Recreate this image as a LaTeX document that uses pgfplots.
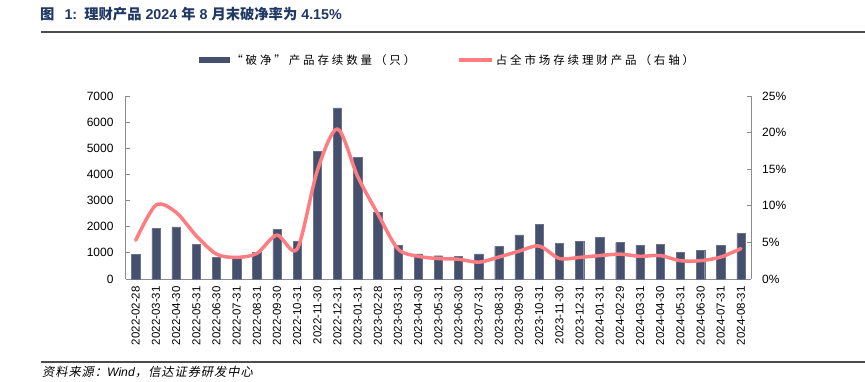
\documentclass[border=0pt]{standalone}
\usepackage{fontspec}
\setmainfont{Liberation Sans}
\newfontfamily\cjk{Noto Sans CJK SC}
\newfontfamily\cjkl[LetterSpace=25]{Noto Sans CJK SC}
\newfontfamily\cjks[FakeSlant=0.2,LetterSpace=8]{Noto Sans CJK SC}
\usepackage{pgfplots}
\pgfplotsset{compat=1.18}
\definecolor{barcol}{HTML}{454F6E}
\definecolor{linecol}{HTML}{FF7C80}
\definecolor{titlecol}{HTML}{203864}
\definecolor{axcol}{HTML}{8C8C8C}
\begin{document}
\begin{tikzpicture}
\path[use as bounding box] (0pt,0pt) rectangle (865pt,381pt);
\node[anchor=west, inner sep=0pt, text=titlecol, font=\fontsize{14.3}{15}\selectfont\bfseries] at (40pt,367pt) {{\cjk\bfseries 图}\hspace{0.7em}1:\hspace{0.5em}{\cjk\bfseries 理财产品} 2024 {\cjk\bfseries 年} 8 {\cjk\bfseries 月末破净率为} 4.15\%};
\draw[line width=1.5pt, color=black!70] (41pt,349pt) -- (865pt,349pt);
\draw[line width=1.2pt, color=black!70] (41pt,19pt) -- (865pt,19pt);
\node[anchor=west, inner sep=0pt, font=\fontsize{12.2}{13}\selectfont] at (42pt,9pt) {{\cjks 资料来源：}\textit{Wind}{\cjks ，信达证券研发中心}};
\begin{axis}[
  at={(125.7pt,102pt)}, anchor=south west, scale only axis,
  width=625.3pt, height=183pt,
  xmin=-0.5, xmax=30.5, ymin=0, ymax=7000,
  axis y line*=left, axis x line*=bottom,
  axis line style={axcol, line width=0.8pt},
  ybar, bar width=8.3pt,
  xtick={0,...,30},
  xticklabels={2022-02-28,2022-03-31,2022-04-30,2022-05-31,2022-06-30,2022-07-31,2022-08-31,2022-09-30,2022-10-31,2022-11-30,2022-12-31,2023-01-31,2023-02-28,2023-03-31,2023-04-30,2023-05-31,2023-06-30,2023-07-31,2023-08-31,2023-09-30,2023-10-31,2023-11-30,2023-12-31,2024-01-31,2024-02-29,2024-03-31,2024-04-30,2024-05-31,2024-06-30,2024-07-31,2024-08-31},
  xtick style={draw=none},
  minor xtick={-0.5,0.5,...,30.5},
  minor x tick style={axcol, line width=0.8pt, yshift=-4pt},
  minor tick length=4pt,
  ytick={0,1000,...,7000},
  ytick style={axcol, line width=0.8pt},
  tick align=inside, major tick length=4pt,
  scaled y ticks=false,
  /pgf/number format/.cd, set thousands separator={}, assume math mode=true, /pgfplots/.cd,
  yticklabel style={font=\fontsize{12}{12}\selectfont, inner sep=0pt, anchor=east, xshift=-12pt},
  xticklabel style={font=\fontsize{11.5}{12}\selectfont, inner sep=0pt, yshift=-7pt, rotate=90, anchor=east},
  legend style={at={(0.5147,1.197)}, anchor=center, draw=none, fill=none,
    font=\cjkl\fontsize{11.5}{12}\selectfont, legend columns=2,
    /tikz/every even column/.append style={column sep=40pt}},
  legend cell align=left,
]
\addplot[fill=barcol, draw=barcol!80!white, line width=0.4pt,
  legend image code/.code={\fill[barcol] (0pt,-2.5pt) rectangle (30pt,2.5pt);}]
  coordinates {(0,930) (1,1930) (2,1990) (3,1320) (4,830) (5,800) (6,1020) (7,1900) (8,1430) (9,4880) (10,6550) (11,4650) (12,2540) (13,1280) (14,960) (15,890) (16,870) (17,960) (18,1240) (19,1690) (20,2090) (21,1370) (22,1430) (23,1600) (24,1390) (25,1290) (26,1330) (27,1030) (28,1090) (29,1300) (30,1740)};
\addlegendentry{“破净”产品存续数量（只）}
\addlegendimage{legend image code/.code={\draw[linecol, line width=3.5pt] (0pt,0pt) -- (33pt,0pt);}}
\addlegendentry{占全市场存续理财产品（右轴）}
\end{axis}
\begin{axis}[
  at={(125.7pt,102pt)}, anchor=south west, scale only axis,
  width=625.3pt, height=183pt,
  xmin=-0.5, xmax=30.5, ymin=0, ymax=25,
  axis y line*=right, hide x axis,
  axis line style={axcol, line width=0.8pt},
  ytick={0,5,...,25},
  ytick style={axcol, line width=0.8pt},
  tick align=inside, major tick length=4pt,
  yticklabel={\pgfmathprintnumber[assume math mode=true]{\tick}\%},
  yticklabel style={font=\fontsize{12}{12}\selectfont, inner sep=0pt, anchor=west, xshift=11pt},
]
\addplot[linecol, line width=3.5pt, smooth, line join=round, line cap=round]
  coordinates {(0,5.3) (1,10.1) (2,9.1) (3,5.9) (4,3.4) (5,2.95) (6,3.5) (7,6.0) (8,4.1) (9,14.8) (10,20.5) (11,14.0) (12,8.9) (13,4.1) (14,3.1) (15,2.8) (16,2.7) (17,2.3) (18,3.0) (19,3.8) (20,4.5) (21,2.8) (22,2.95) (23,3.2) (24,3.4) (25,3.1) (26,3.2) (27,2.5) (28,2.5) (29,3.0) (30,4.15)};
\end{axis}
\end{tikzpicture}
\end{document}
